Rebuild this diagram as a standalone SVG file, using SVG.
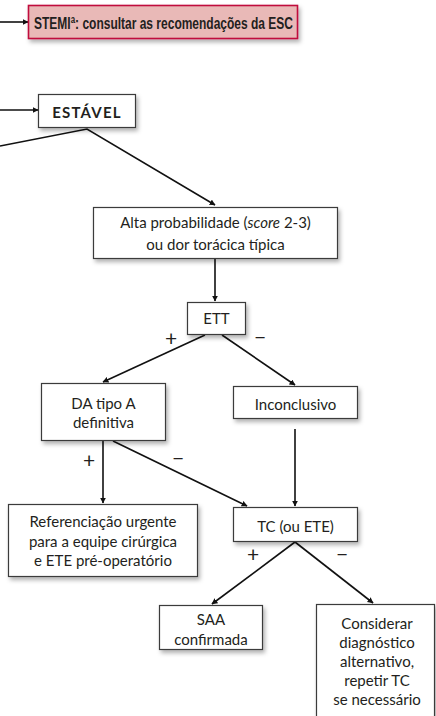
<svg xmlns="http://www.w3.org/2000/svg" width="436" height="716" viewBox="0 0 436 716">
<style>
.box{fill:#fff;stroke:#3a3a3a;stroke-width:1.2;filter:url(#sh)}
.red{fill:#e9b9b7;stroke:#c0103c;stroke-width:1.6;filter:url(#sh)}
.t{font-family:Lato,"Open Sans","Liberation Sans",sans-serif;font-size:15px;fill:#231f20;text-anchor:middle}
.b{font-weight:bold}
.st{font-family:"Liberation Sans",Arial,sans-serif;font-weight:bold;fill:#231f20}
.sg{font-family:Lato,"Liberation Sans",sans-serif;font-size:21px;fill:#231f20;text-anchor:middle;dominant-baseline:central}
.c{fill:none;stroke:#111;stroke-width:1.6;marker-end:url(#ah)}
</style>
<defs>
<filter id="sh" x="-10%" y="-20%" width="130%" height="160%">
<feDropShadow dx="2" dy="3" stdDeviation="2.2" flood-color="#000" flood-opacity="0.3"/>
</filter>
<marker id="ah" viewBox="0 0 10 10" refX="9" refY="5" markerWidth="6" markerHeight="6" orient="auto" markerUnits="userSpaceOnUse">
<path d="M0,0 L10,5 L0,10 z" fill="#111"/>
</marker>
</defs>
<g id="connectors">
<path class="c" d="M0,22 H28"/>
<path class="c" d="M0,110 H38"/>
<path class="c" d="M0,146 L87,129 L215,205"/>
<path class="c" d="M215,259 V301"/>
<path class="c" d="M205,335 L103,382"/>
<path class="c" d="M222,335 L295,385"/>
<path class="c" d="M295,429 V506"/>
<path class="c" d="M103,441 V503"/>
<path class="c" d="M113,441 L247,506"/>
<path class="c" d="M295,542 L212,604"/>
<path class="c" d="M295,542 L373,603"/>
</g>
<g id="signs">
<text class="sg" x="171" y="337">+</text>
<text class="sg" x="260" y="336">−</text>
<text class="sg" x="89" y="459">+</text>
<text class="sg" x="178" y="457">−</text>
<text class="sg" x="253" y="553">+</text>
<text class="sg" x="342" y="553">−</text>
</g>
<g id="stemi">
<rect class="red" x="28.5" y="5.5" width="269" height="33"/>
<text class="st" x="34" y="29" font-size="16" textLength="259" lengthAdjust="spacingAndGlyphs">STEMIª: consultar as recomendações da ESC</text>
</g>
<g id="estavel">
<rect class="box" x="38.5" y="94.5" width="97" height="33"/>
<text class="t b" x="87" y="117.5" font-size="16.5" letter-spacing="1.2">ESTÁVEL</text>
</g>
<g id="alta">
<rect class="box" x="93.5" y="207.5" width="244" height="51"/>
<text class="t" x="215.5" y="228">Alta probabilidade (<tspan font-style="italic">score</tspan> 2-3)</text>
<text class="t" x="215.5" y="250">ou dor torácica típica</text>
</g>
<g id="ett">
<rect class="box" x="187.5" y="302.5" width="58" height="32"/>
<text class="t" x="216.5" y="324">ETT</text>
</g>
<g id="da">
<rect class="box" x="41.5" y="383.5" width="124" height="57"/>
<text class="t" x="103.5" y="409">DA tipo A</text>
<text class="t" x="103.5" y="428">definitiva</text>
</g>
<g id="inconclusivo">
<rect class="box" x="233.5" y="386.5" width="124" height="32"/>
<text class="t" x="295.5" y="410">Inconclusivo</text>
</g>
<g id="referenciacao">
<rect class="box" x="8.5" y="504.5" width="189" height="72"/>
<text class="t" x="103" y="527">Referenciação urgente</text>
<text class="t" x="103" y="547">para a equipe cirúrgica</text>
<text class="t" x="103" y="566">e ETE pré-operatório</text>
</g>
<g id="tc">
<rect class="box" x="233.5" y="507.5" width="124" height="34"/>
<text class="t" x="295.5" y="532">TC (ou ETE)</text>
</g>
<g id="saa">
<rect class="box" x="159.5" y="605.5" width="103" height="44"/>
<text class="t" x="211" y="625">SAA</text>
<text class="t" x="211" y="645">confirmada</text>
</g>
<g id="considerar">
<rect class="box" x="316.5" y="604.5" width="118" height="130"/>
<text class="t" x="377" y="629">Considerar</text>
<text class="t" x="377" y="648">diagnóstico</text>
<text class="t" x="377" y="667">alternativo,</text>
<text class="t" x="377" y="686">repetir TC</text>
<text class="t" x="377" y="705">se necessário</text>
</g>
</svg>
